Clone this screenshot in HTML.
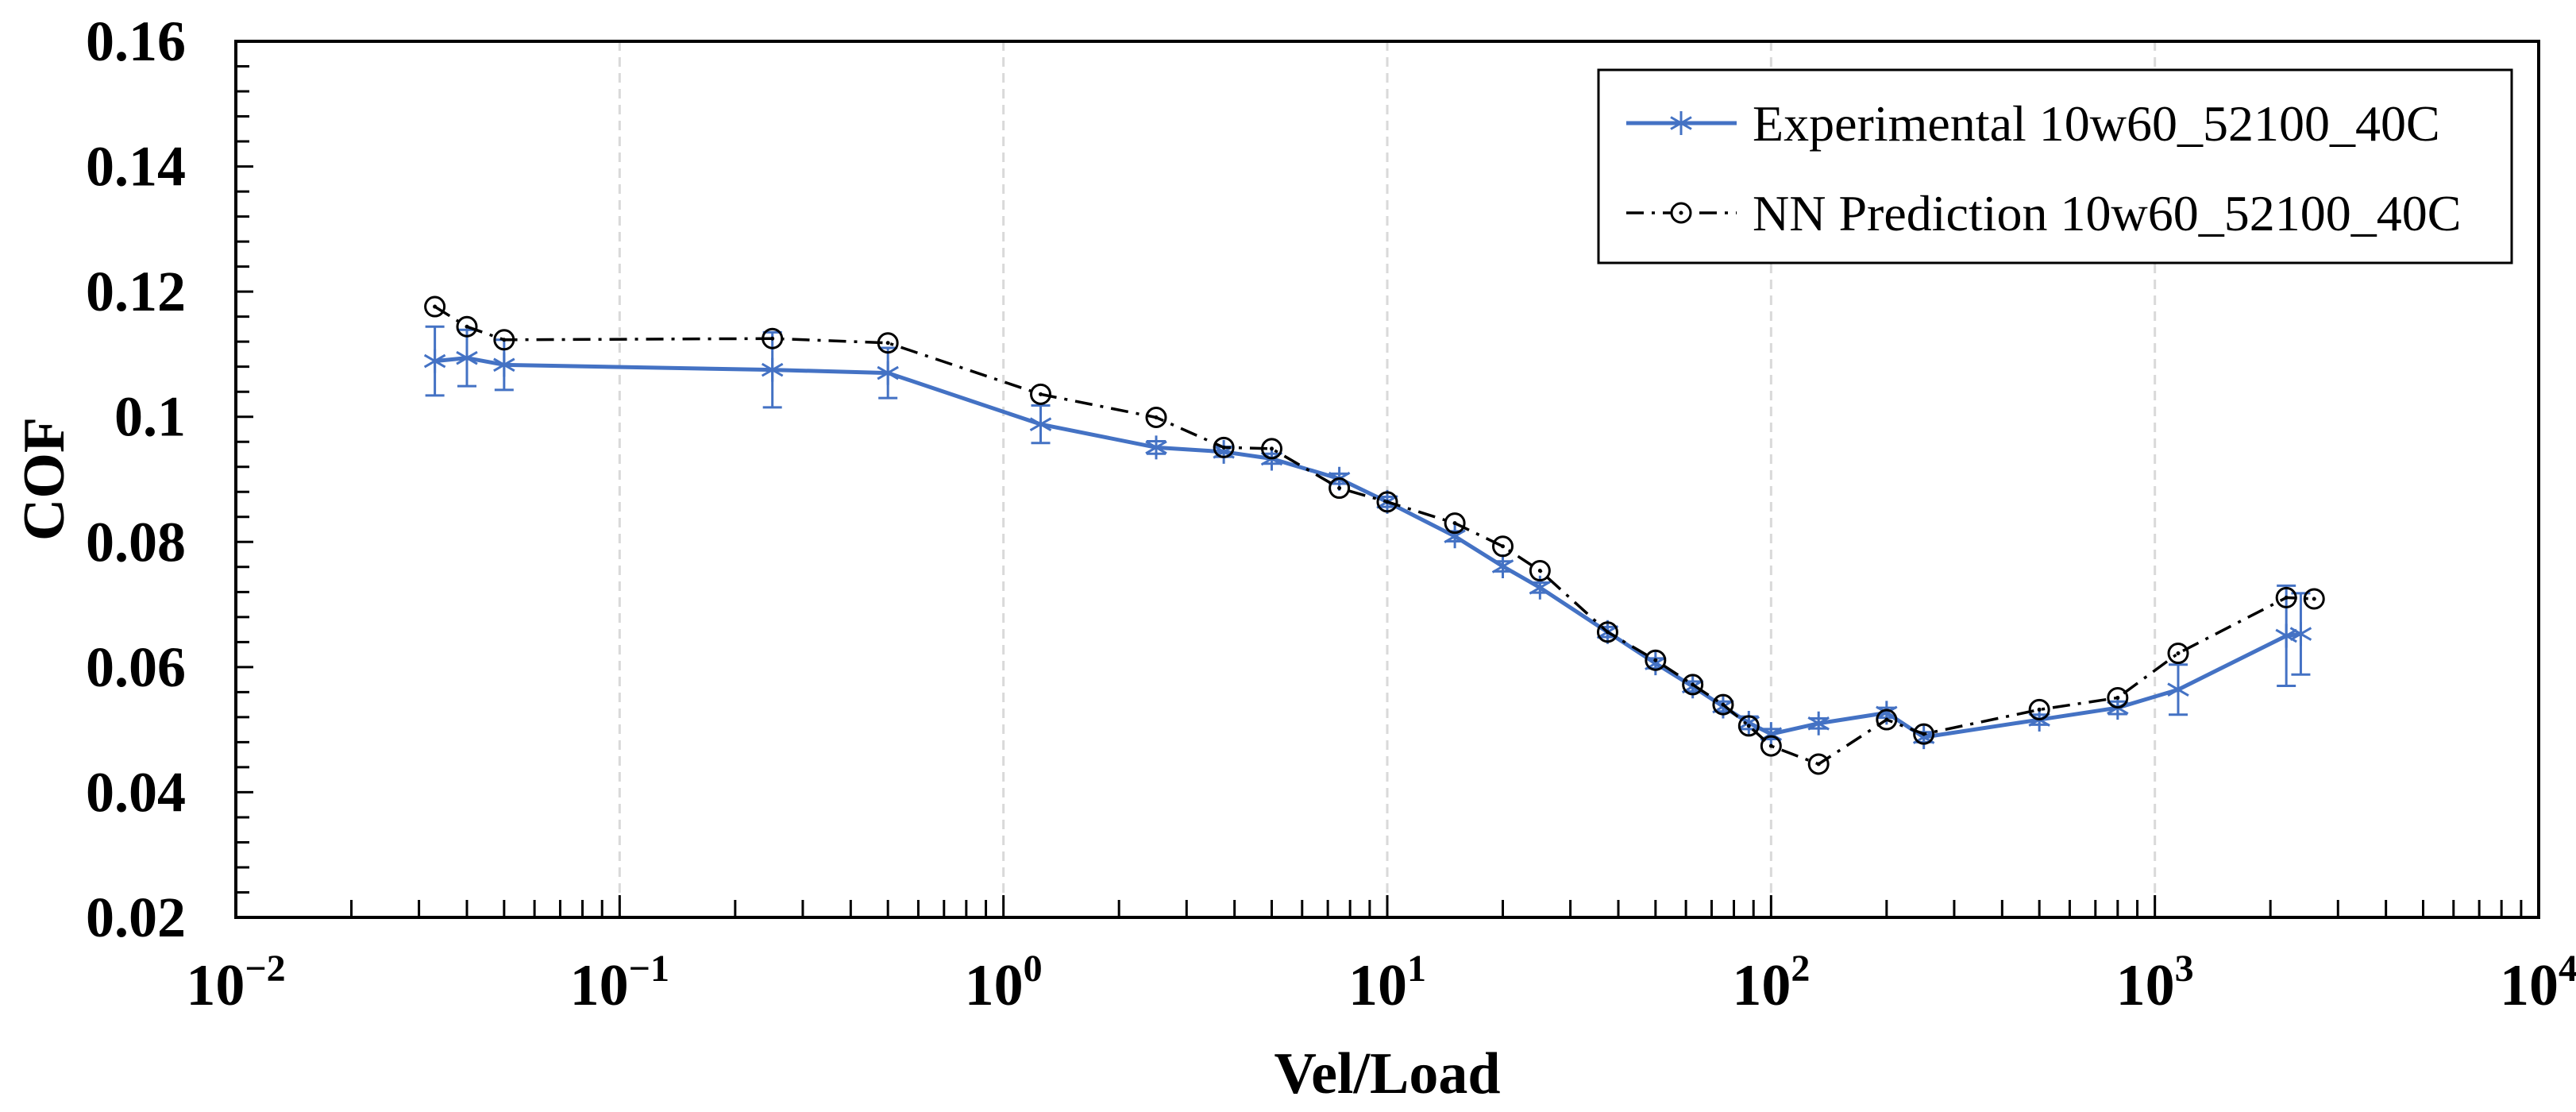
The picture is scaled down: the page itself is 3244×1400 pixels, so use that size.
<!DOCTYPE html>
<html><head><meta charset="utf-8"><style>
html,body{margin:0;padding:0;background:#fff;}
svg{display:block;}
text{font-family:"Liberation Serif",serif;}
</style></head><body>
<svg id="chart" width="3244" height="1400" viewBox="0 0 3244 1400" xmlns="http://www.w3.org/2000/svg">
<g id="grid"></g>
<g id="axes"></g>
<g id="series"></g>
<text x="1747" y="1376" font-size="74" font-weight="bold" text-anchor="middle">Vel/Load</text>
<text x="0" y="0" font-size="74" font-weight="bold" text-anchor="middle" transform="translate(80,603) rotate(-90)">COF</text>
<g>
<rect x="2013" y="88" width="1150" height="243" fill="#fff" stroke="#000" stroke-width="3"/>
<g>
<line x1="2048" y1="155" x2="2187" y2="155" stroke="#4472C4" stroke-width="5"/>
<g id="legStar"></g>
<text x="2207" y="177" font-size="64">Experimental 10w60_52100_40C</text>
</g>
<g>
<line x1="2048" y1="268" x2="2187" y2="268" stroke="#000" stroke-width="3.5" stroke-dasharray="22,10,4,10"/>
<circle cx="2117" cy="268" r="12" fill="#fff" stroke="#000" stroke-width="3"/>
<circle cx="2117" cy="268" r="2.5" fill="#000"/>
<text x="2207" y="290" font-size="64">NN Prediction 10w60_52100_40C</text>
</g>
</g>
</svg>
<script>
const expX=[0.033,0.04,0.05,0.25,0.5,1.25,2.5,3.75,5,7.5,10,15,20,25,37.5,50,62.5,75,87.5,100,133,200,250,500,800,1150,2200,2400];
const expY=[0.1089,0.1094,0.1083,0.1075,0.1070,0.0988,0.0951,0.0944,0.0933,0.0901,0.0864,0.0809,0.0761,0.0727,0.0656,0.0606,0.0569,0.0537,0.0511,0.0493,0.0510,0.0527,0.0488,0.0516,0.0535,0.0564,0.0650,0.0653];
const expErr=[0.0055,0.0045,0.004,0.006,0.004,0.003,0.001,0.0008,0.0008,0.0008,0.0008,0.0008,0.0008,0.0008,0.0008,0.0008,0.0008,0.0008,0.001,0.0008,0.0008,0.0008,0.0008,0.0008,0.001,0.004,0.008,0.0065];
const nnX=[0.033,0.04,0.05,0.25,0.5,1.25,2.5,3.75,5,7.5,10,15,20,25,37.5,50,62.5,75,87.5,100,133,200,250,500,800,1150,2200,2600];
const nnY=[0.1176,0.1144,0.1123,0.1125,0.1118,0.1036,0.0999,0.0951,0.0949,0.0886,0.0864,0.0830,0.0793,0.0754,0.0656,0.0611,0.0572,0.0540,0.0506,0.0474,0.0445,0.0516,0.0493,0.0532,0.0551,0.0622,0.0711,0.0709];
const yTicks=[0.02,0.04,0.06,0.08,0.1,0.12,0.14,0.16];
const yTickLabels=["0.02","0.04","0.06","0.08","0.1","0.12","0.14","0.16"];
const xDecades=[-2,-1,0,1,2,3,4];
const xTickExps=["−2","−1","0","1","2","3","4"];

const L=297,R=3197,T=52,B=1155;
const NS="http://www.w3.org/2000/svg";
function sx(v){return L+(Math.log10(v)+2)/6*(R-L);}
function sy(v){return B-(v-0.02)/0.14*(B-T);}
function mk(tag,attrs,parent){const e=document.createElementNS(NS,tag);for(const k in attrs)e.setAttribute(k,attrs[k]);parent.appendChild(e);return e;}
const grid=document.getElementById('grid'),axes=document.getElementById('axes'),series=document.getElementById('series');

xDecades.forEach((d,i)=>{
  const x=sx(Math.pow(10,d));
  if(d>-2&&d<4){const g=mk('line',{x1:x,y1:T,x2:x,y2:B,stroke:'#d9d9d9','stroke-width':3,'stroke-dasharray':'12,8'},grid);
  
  }
  const t=mk('text',{x:x,y:1265,'font-size':74,'font-weight':'bold','text-anchor':'middle'},axes);
  
  
  const a=document.createElementNS(NS,'tspan');a.textContent='10';t.appendChild(a);
  const b=document.createElementNS(NS,'tspan');b.setAttribute('dy','-30');b.setAttribute('font-size','48');b.textContent=xTickExps[i];t.appendChild(b);
  if(d<4){for(let m=2;m<=10;m++){const xm=sx(m*Math.pow(10,d));const len=m===10?28:22;
    const tk=mk('line',{x1:xm,y1:B,x2:xm,y2:B-len,stroke:'#000','stroke-width':3},axes);
    
    }}
});
for(let k=0;k<=35;k++){const v=0.02+k*0.004;const y=sy(v);const major=(k%5===0);
  const tk=mk('line',{x1:L,y1:y,x2:L+(major?22:17),y2:y,stroke:'#000','stroke-width':3},axes);
  
  }
yTicks.forEach((v,i)=>{const t=mk('text',{x:234,y:sy(v)+24,'font-size':72,'font-weight':'bold','text-anchor':'end'},axes);t.textContent=yTickLabels[i];
  
  });
const frame=mk('rect',{x:L,y:T,width:R-L,height:B-T,fill:'none',stroke:'#000','stroke-width':4},axes);



const expG=mk('g',{},series);


expX.forEach((x,i)=>{const X=sx(x),y1=sy(expY[i]+expErr[i]),y2=sy(expY[i]-expErr[i]);
  const eb=mk('path',{d:`M${X},${y1}V${y2}M${X-12},${y1}H${X+12}M${X-12},${y2}H${X+12}`,stroke:'#4472C4','stroke-width':3,fill:'none'},expG);
  
  });
const expLine=mk('polyline',{points:expX.map((x,i)=>sx(x)+','+sy(expY[i])).join(' '),fill:'none',stroke:'#4472C4','stroke-width':5,'stroke-linejoin':'round'},expG);


function star(cx,cy,parent){let d='';for(let a=0;a<3;a++){const ang=Math.PI/2+a*Math.PI/3;const dx=15*Math.cos(ang),dy=15*Math.sin(ang);d+=`M${cx-dx},${cy-dy}L${cx+dx},${cy+dy}`;}
  return mk('path',{d:d,stroke:'#4472C4','stroke-width':3,fill:'none'},parent);}
expX.forEach((x,i)=>{const s=star(sx(x),sy(expY[i]),expG);
  
  });
const ls=star(2117,155,document.getElementById('legStar'));



const nnG=mk('g',{},series);


const nnLine=mk('polyline',{points:nnX.map((x,i)=>sx(x)+','+sy(nnY[i])).join(' '),fill:'none',stroke:'#000','stroke-width':3.5,'stroke-dasharray':'22,10,4,10'},nnG);


nnX.forEach((x,i)=>{const X=sx(x),Y=sy(nnY[i]);
  const c=mk('circle',{cx:X,cy:Y,r:12,fill:'none',stroke:'#000','stroke-width':3},nnG);
  
  
  const dot=mk('circle',{cx:X,cy:Y,r:2.5,fill:'#000'},nnG);
  
  });
</script>
</body></html>
